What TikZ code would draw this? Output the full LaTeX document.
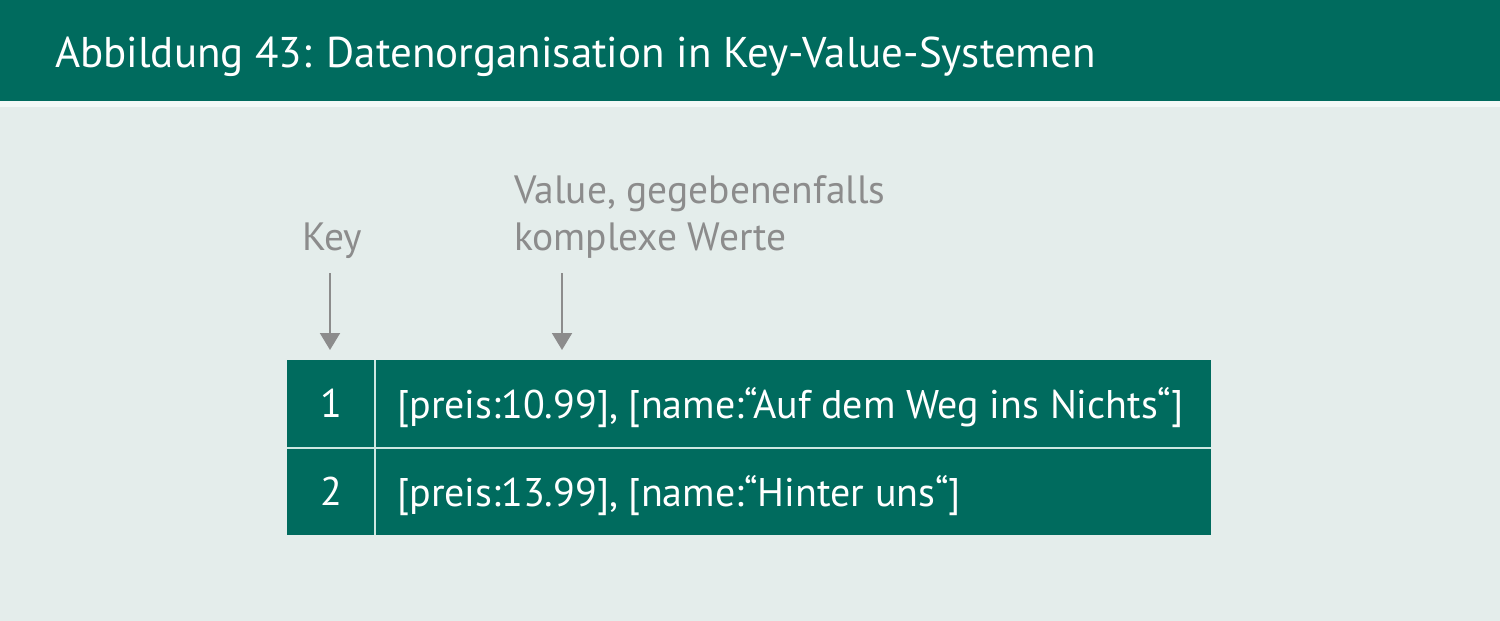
\documentclass[tikz,border=0pt]{standalone}
\usepackage{fontspec}
\setmainfont{PT Sans}
\usetikzlibrary{arrows.meta}
\definecolor{teal}{RGB}{0,107,94}
\definecolor{paper}{RGB}{228,237,235}
\definecolor{stripe}{RGB}{242,249,247}
\definecolor{note}{RGB}{140,140,140}
\definecolor{rule}{RGB}{205,232,226}
\tikzset{
  txt/.style={inner sep=0pt, anchor=base west},
  title/.style={txt, text=white, font=\fontsize{43}{52}\selectfont},
  label/.style={txt, text=note, font=\fontsize{39.5}{47}\selectfont},
  cell/.style={fill=teal, inner sep=0pt, minimum height=87.5pt},
  celltext/.style={txt, text=white, font=\fontsize{40}{48}\selectfont},
  arr/.style={draw=note, line width=2pt, -{Triangle[width=20pt,length=17pt]}},
  divider/.style={draw=rule, line width=2pt}
}
\begin{document}
\begin{tikzpicture}[x=1pt, y=-1pt]
  % canvas and header band
  \fill[paper] (0,0) rectangle (1500,621);
  \fill[stripe] (0,100) rectangle (1500,107);
  \fill[teal] (0,0) rectangle (1500,101);
  \node[title] (head) at (55,67) {Abbildung 43: Datenorganisation in Key-Value-Systemen};

  % labels above the table (the value label's base is its last line)
  \node[label] (key) at (302,250) {Key};
  \node[label, align=left] (val) at (514,250)
    {Value, gegebenenfalls\\komplexe Werte};

  % table cells
  \node[cell, minimum width=87.5pt, anchor=north west] (k1) at (287,360) {};
  \node[cell, minimum width=836.5pt, anchor=north west] (v1) at (374.5,360) {};
  \node[cell, minimum width=87.5pt, anchor=north west] (k2) at (287,447.5) {};
  \node[cell, minimum width=836.5pt, anchor=north west] (v2) at (374.5,447.5) {};

  \node[celltext, anchor=base] (n1) at ([yshift=-14pt]k1.center) {1};
  \node[celltext, anchor=base] (n2) at ([yshift=-14pt]k2.center) {2};
  \node[celltext] (t1) at (397,418) {[preis:10.99], [name:“Auf dem Weg ins Nichts“]};
  \node[celltext] (t2) at (397,506) {[preis:13.99], [name:“Hinter uns“]};

  % cell dividers
  \draw[divider] (k1.north east) -- (k2.south east);
  \draw[divider] (k1.south west) -- (v1.south east);

  % pointers
  \coordinate (keytop) at (330,273);
  \coordinate (valtop) at (562,273);
  \draw[arr] (keytop) -- (keytop |- 0,350);
  \draw[arr] (valtop) -- (valtop |- 0,350);
\end{tikzpicture}
\end{document}
